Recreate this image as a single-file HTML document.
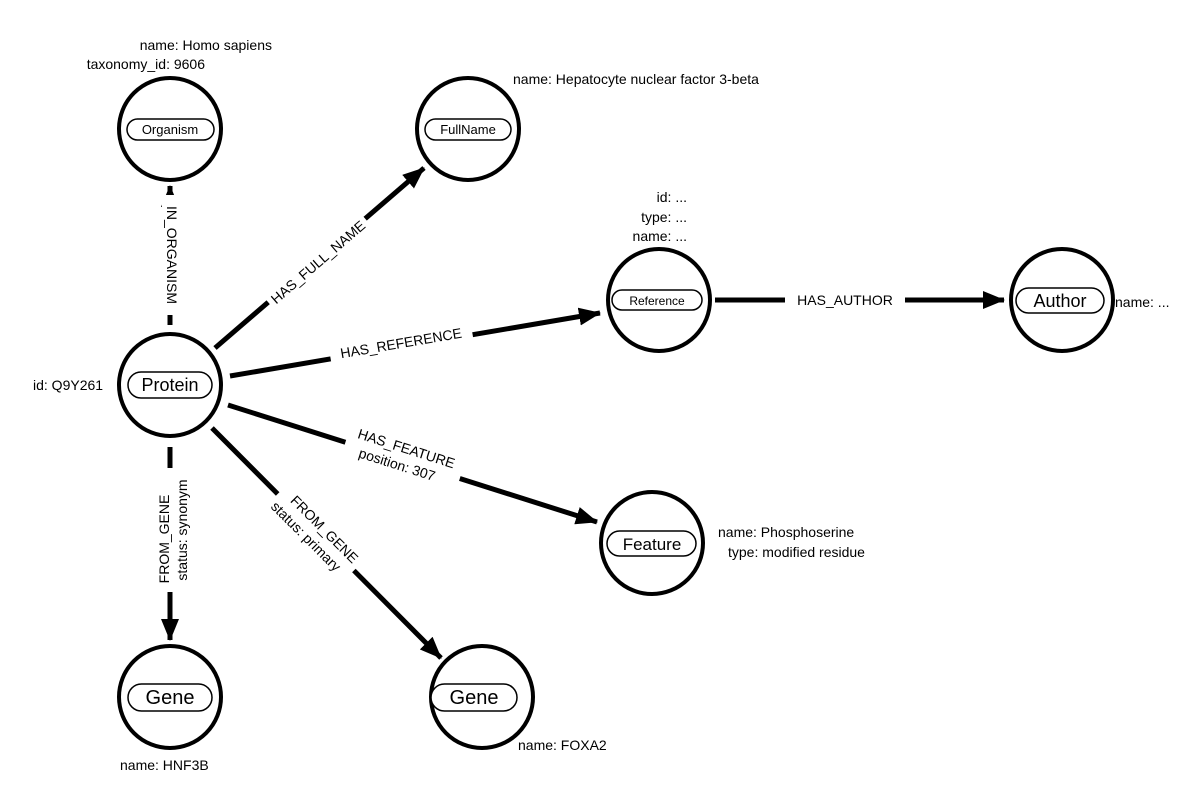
<!DOCTYPE html>
<html><head><meta charset="utf-8"><style>
html,body{margin:0;padding:0;background:#fff;}
svg{display:block;font-family:"Liberation Sans",Arial,sans-serif;}
</style></head><body>
<svg width="1204" height="785" viewBox="0 0 1204 785" xmlns="http://www.w3.org/2000/svg">
<defs>
<marker id="a" markerWidth="22" markerHeight="18" refX="21" refY="9" orient="auto" markerUnits="userSpaceOnUse"><path d="M0,0 L22,9 L0,18z" fill="#000"/></marker>
</defs>
<g stroke="#000" stroke-width="5" fill="none">
<line x1="170" y1="325" x2="170" y2="186" marker-end="url(#a)"/>
<line x1="215" y1="348" x2="424" y2="168" marker-end="url(#a)"/>
<line x1="230" y1="376" x2="600" y2="313" marker-end="url(#a)"/>
<line x1="715" y1="300" x2="1004" y2="300" marker-end="url(#a)"/>
<line x1="228" y1="405" x2="597" y2="522" marker-end="url(#a)"/>
<line x1="170" y1="447" x2="170" y2="640" marker-end="url(#a)"/>
<line x1="212" y1="428" x2="441" y2="658" marker-end="url(#a)"/>
</g>
<g font-size="14" fill="#000" text-anchor="middle">
<g transform="translate(172,255) rotate(90)"><rect x="-60" y="-10" width="120" height="20" fill="#fff"/><text x="0" y="5">IN_ORGANISM</text></g>
<g transform="translate(318,262) rotate(-40.7)"><rect x="-64" y="-10" width="128" height="20" fill="#fff"/><text x="0" y="5">HAS_FULL_NAME</text></g>
<g transform="translate(401,343) rotate(-9.7)"><rect x="-72" y="-10" width="144" height="20" fill="#fff"/><text x="0" y="5">HAS_REFERENCE</text></g>
<g transform="translate(845,300)"><rect x="-60" y="-10" width="120" height="20" fill="#fff"/><text x="0" y="5">HAS_AUTHOR</text></g>
<g transform="translate(404,456) rotate(17.6)"><rect x="-60" y="-19" width="120" height="38" fill="#fff"/><text x="0" y="-3">HAS_FEATURE</text><text x="-4" y="15">position: 307</text></g>
<g transform="translate(172,530) rotate(-90)"><rect x="-62" y="-19" width="124" height="38" fill="#fff"/><text x="-9" y="-3">FROM_GENE</text><text x="0" y="15">status: synonym</text></g>
<g transform="translate(316,532) rotate(45)"><rect x="-54" y="-19" width="108" height="38" fill="#fff"/><text x="4" y="-3">FROM_GENE</text><text x="-4" y="15">status: primary</text></g>
</g>
<g stroke="#000" stroke-width="4" fill="#fff">
<circle cx="170" cy="129" r="51"/>
<circle cx="468" cy="129" r="51"/>
<circle cx="659" cy="300" r="51"/>
<circle cx="1062" cy="300" r="51"/>
<circle cx="170" cy="385" r="51"/>
<circle cx="652" cy="543" r="51"/>
<circle cx="170" cy="697" r="51"/>
<circle cx="482" cy="697" r="51"/>
</g>
<g stroke="#000" stroke-width="1.5" fill="#fff">
<rect x="127" y="119" width="87" height="21" rx="10.5"/>
<rect x="425" y="119" width="86" height="21" rx="10.5"/>
<rect x="612" y="290" width="90" height="20" rx="10"/>
<rect x="1016" y="288" width="88" height="25" rx="12.5"/>
<rect x="128" y="372" width="84" height="26" rx="13"/>
<rect x="607" y="531" width="89" height="25" rx="12.5"/>
<rect x="128" y="684" width="84" height="27" rx="13.5"/>
<rect x="431" y="684" width="86" height="27" rx="13.5"/>
</g>
<g fill="#000" text-anchor="middle">
<text x="170" y="134" font-size="13">Organism</text>
<text x="468" y="134" font-size="13">FullName</text>
<text x="657" y="305" font-size="12">Reference</text>
<text x="1060" y="307" font-size="18">Author</text>
<text x="170" y="391" font-size="18">Protein</text>
<text x="652" y="550" font-size="17">Feature</text>
<text x="170" y="704" font-size="20">Gene</text>
<text x="474" y="704" font-size="20">Gene</text>
</g>
<g fill="#000" font-size="14">
<text x="272" y="50" text-anchor="end">name: Homo sapiens</text>
<text x="205" y="69" text-anchor="end">taxonomy_id: 9606</text>
<text x="513" y="84">name: Hepatocyte nuclear factor 3-beta</text>
<text x="687" y="202" text-anchor="end">id: ...</text>
<text x="687" y="222" text-anchor="end">type: ...</text>
<text x="687" y="241" text-anchor="end">name: ...</text>
<text x="1115" y="307">name: ...</text>
<text x="33" y="390">id: Q9Y261</text>
<text x="718" y="537">name: Phosphoserine</text>
<text x="728" y="557">type: modified residue</text>
<text x="120" y="770">name: HNF3B</text>
<text x="518" y="750">name: FOXA2</text>
</g>
</svg>
</body></html>
